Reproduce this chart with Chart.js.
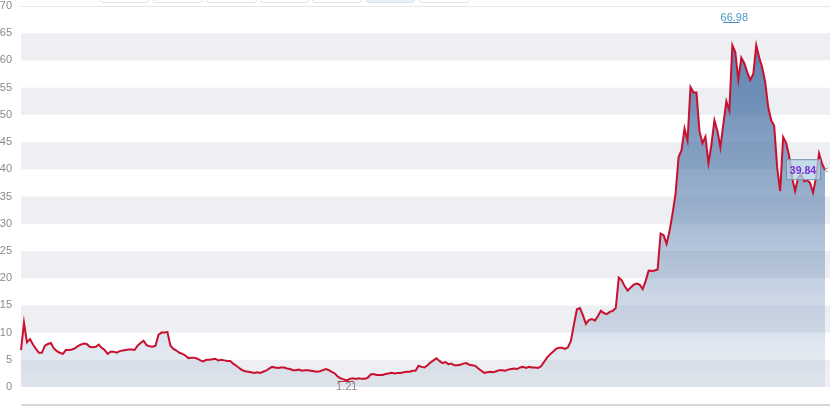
<!DOCTYPE html>
<html>
<head>
<meta charset="utf-8">
<script src="https://cdn.jsdelivr.net/npm/chart.js@4.4.1/dist/chart.umd.min.js"></script>
<style>
  html, body { margin: 0; padding: 0; background: #fff; overflow: hidden; }
  #wrap { position: relative; width: 830px; height: 410px; }
  canvas { position: absolute; left: 0; top: 0; }
  .btn { position: absolute; top: -20px; height: 21px; border: 1px solid #e4e4e6; border-radius: 3px; background: #fff; }
  .btn.sel { background: #e6eff8; border-color: #d6e4f2; }
</style>
</head>
<body>
<div id="wrap">
  <canvas id="c" width="830" height="410"></canvas>
  <div class="btn" style="left:100px;width:47px"></div>
  <div class="btn" style="left:153px;width:48px"></div>
  <div class="btn" style="left:206px;width:49px"></div>
  <div class="btn" style="left:260px;width:47px"></div>
  <div class="btn" style="left:312px;width:48px"></div>
  <div class="btn sel" style="left:366px;width:47px"></div>
  <div class="btn" style="left:419px;width:49px"></div>
</div>
<script>
// ---- data ----
const yTicks = [0, 5, 10, 15, 20, 25, 30, 35, 40, 45, 50, 55, 60, 65, 70];
const highLabel = 66.98;
const lowLabel = 1.21;
const lastLabel = 39.84;
const prices = [
  6.8, 11.8, 8.2, 8.8, 7.8, 7.0, 6.3, 6.3, 7.6, 7.9,
  8.1, 7.1, 6.6, 6.3, 6.1, 6.8, 6.8, 6.9, 7.1, 7.5,
  7.8, 8.0, 7.9, 7.4, 7.3, 7.4, 7.8, 7.2, 6.8, 6.1,
  6.5, 6.5, 6.3, 6.6, 6.7, 6.8, 6.9, 6.9, 6.8, 7.6,
  8.1, 8.5, 7.7, 7.5, 7.4, 7.6, 9.6, 10.0, 10.0, 10.1,
  7.6, 7.0, 6.7, 6.3, 6.1, 5.8, 5.3, 5.4, 5.4, 5.2,
  4.9, 4.7, 5.0, 5.0, 5.1, 5.2, 4.9, 5.0, 4.9, 4.8,
  4.8, 4.3, 3.9, 3.5, 3.1, 2.9, 2.8, 2.7, 2.6, 2.7,
  2.6, 2.8, 3.0, 3.4, 3.7, 3.6, 3.5, 3.6, 3.6, 3.4,
  3.3, 3.1, 3.1, 3.2, 3.0, 3.1, 3.1, 3.0, 2.9, 2.8,
  2.9, 3.1, 3.3, 3.1, 2.8, 2.5, 1.9, 1.6, 1.4, 1.21,
  1.5, 1.6, 1.5, 1.6, 1.5, 1.5, 1.7, 2.3, 2.4, 2.2,
  2.2, 2.2, 2.4, 2.5, 2.6, 2.5, 2.6, 2.6, 2.7, 2.8,
  2.8, 3.0, 3.0, 3.9, 3.7, 3.6, 4.0, 4.5, 4.9, 5.3,
  4.8, 4.4, 4.6, 4.2, 4.3, 4.0, 4.0, 4.1, 4.3, 4.4,
  4.1, 4.0, 3.9, 3.4, 3.0, 2.6, 2.7, 2.8, 2.7, 2.9,
  3.1, 3.1, 3.0, 3.2, 3.3, 3.4, 3.3, 3.6, 3.7, 3.5,
  3.7, 3.6, 3.6, 3.5, 3.8, 4.6, 5.4, 6.0, 6.5, 7.0,
  7.2, 7.2, 7.0, 7.3, 8.5, 11.5, 14.3, 14.5, 13.2, 11.6,
  12.3, 12.5, 12.2, 13.0, 14.0, 13.6, 13.4, 13.8, 14.0, 14.5,
  20.1, 19.6, 18.5, 17.7, 18.3, 18.8, 19.0, 18.8, 18.0, 19.5,
  21.4, 21.3, 21.4, 21.6, 28.2, 27.9, 26.3, 28.7, 31.9, 35.5,
  42.2, 43.5, 47.5, 45.3, 55.1, 54.1, 54.1, 47.0, 44.8, 46.0,
  41.1, 44.5, 49.0, 47.1, 44.0, 48.4, 52.5, 50.8, 62.8, 61.5,
  56.4, 60.5, 59.5, 57.8, 56.4, 57.5, 62.8, 60.5, 58.7, 56.0,
  51.4, 49.0, 48.0, 40.3, 36.0, 45.9, 44.8, 42.5, 38.5, 36.0,
  38.5, 39.0, 37.8, 38.0, 37.5, 35.7, 38.5, 42.9, 41.1, 39.84
];
const days = prices.map((_, i) => i + 1);

// ---- plugins ----
const bandsPlugin = {
  id: 'bands',
  beforeDatasetsDraw(chart) {
    const { ctx, chartArea: a, scales: { y } } = chart;
    ctx.save();
    ctx.fillStyle = '#eeeff2';
    for (let v = 0; v < 70; v += 10) {
      const t = y.getPixelForValue(v + 5), b = y.getPixelForValue(v);
      ctx.fillRect(a.left, t, a.right - a.left + 5, b - t);
    }
    ctx.strokeStyle = '#e6e6e8';
    ctx.lineWidth = 1;
    const top = Math.round(y.getPixelForValue(70)) + 0.5;
    ctx.beginPath(); ctx.moveTo(a.left, top); ctx.lineTo(a.right + 5, top); ctx.stroke();
    ctx.strokeStyle = '#d6d6d8';
    ctx.lineWidth = 2;
    ctx.beginPath(); ctx.moveTo(a.left, a.bottom); ctx.lineTo(a.right + 5, a.bottom); ctx.stroke();
    ctx.restore();
  }
};

const marksPlugin = {
  id: 'marks',
  afterDatasetsDraw(chart) {
    const { ctx, scales: { x, y } } = chart;
    const maxV = Math.max(...prices), minV = Math.min(...prices);
    const iMax = prices.indexOf(maxV), iMin = prices.indexOf(minV);
    ctx.save();
    ctx.font = '11px "Liberation Sans", Arial, sans-serif';
    ctx.textAlign = 'center';
    // high marker
    const hx = x.getPixelForValue(iMax) + 2, hy = y.getPixelForValue(highLabel);
    ctx.strokeStyle = '#3f7fb3'; ctx.lineWidth = 1;
    ctx.beginPath(); ctx.moveTo(hx - 11, hy); ctx.lineTo(hx + 5, hy); ctx.stroke();
    ctx.fillStyle = '#4a95c4';
    ctx.textBaseline = 'bottom';
    ctx.fillText(highLabel.toFixed(2), hx, hy + 1);
    // low marker
    const lx = x.getPixelForValue(iMin), ly = y.getPixelForValue(lowLabel);
    ctx.strokeStyle = '#b0303f';
    ctx.beginPath(); ctx.moveTo(lx - 9, ly + 1); ctx.lineTo(lx + 7, ly + 1); ctx.stroke();
    ctx.fillStyle = '#8a8a8a';
    ctx.textBaseline = 'top';
    ctx.fillText(lowLabel.toFixed(2), lx, ly + 1);
    // last value box
    const last = prices.length - 1;
    const ex = x.getPixelForValue(last), ey = y.getPixelForValue(lastLabel);
    ctx.fillStyle = 'rgba(178,214,232,0.75)';
    ctx.strokeStyle = 'rgba(110,130,150,0.8)';
    ctx.lineWidth = 1;
    ctx.fillRect(ex - 39, ey - 11, 35, 21);
    ctx.strokeRect(ex - 38.5, ey - 10.5, 34, 20);
    ctx.fillStyle = '#7b2fd6';
    ctx.font = 'bold 10.5px "Liberation Sans", Arial, sans-serif';
    ctx.textBaseline = 'middle';
    ctx.fillText(lastLabel.toFixed(2), ex - 22, ey + 0.5);
    ctx.fillStyle = '#888';
    ctx.font = '9px "Liberation Sans", Arial, sans-serif';
    ctx.fillText('<', ex + 1, ey);
    ctx.restore();
  }
};

new Chart(document.getElementById('c'), {
  type: 'line',
  data: {
    labels: days,
    datasets: [{
      data: prices,
      borderColor: '#c9102f',
      borderWidth: 2,
      pointRadius: 0,
      pointHoverRadius: 0,
      tension: 0,
      fill: { value: 0 },
      backgroundColor(context) {
        const a = context.chart.chartArea;
        if (!a) return 'rgba(70,110,160,0.3)';
        const g = context.chart.ctx.createLinearGradient(0, a.top, 0, a.bottom);
        g.addColorStop(0, 'rgba(62,104,160,0.92)');
        g.addColorStop(0.45, 'rgba(78,118,168,0.6)');
        g.addColorStop(1, 'rgba(120,150,190,0.08)');
        return g;
      }
    }]
  },
  options: {
    responsive: false,
    animation: false,
    devicePixelRatio: 1,
    layout: { autoPadding: false, padding: { top: 6, right: 5, bottom: 5, left: 0 } },
    plugins: { legend: { display: false }, tooltip: { enabled: false } },
    scales: {
      x: { display: false },
      y: {
        min: -3.3,
        max: 70,
        afterBuildTicks(scale) { scale.ticks = yTicks.map(v => ({ value: v })); },
        afterFit(scale) { scale.width = 21; scale.paddingTop = 0; scale.paddingBottom = 0; },
        border: { display: false },
        grid: { display: false, drawTicks: false },
        ticks: {
          padding: 9,
          color: '#8a8a8a',
          font: { family: '"Liberation Sans", Arial, sans-serif', size: 11 }
        }
      }
    }
  },
  plugins: [bandsPlugin, marksPlugin]
});
</script>
</body>
</html>
